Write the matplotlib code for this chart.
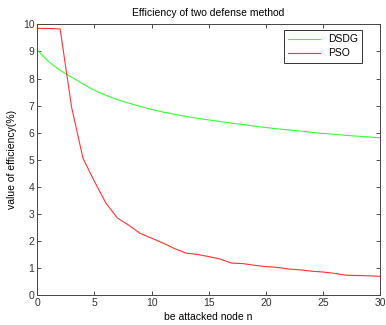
import matplotlib
matplotlib.use("Agg")
import matplotlib.pyplot as plt

plt.rcParams['font.family'] = ['Liberation Sans', 'DejaVu Sans']

x = list(range(0, 31))
dsdg = [9.05, 8.62, 8.30, 8.05, 7.80, 7.56, 7.38, 7.22, 7.09, 6.97, 6.86,
        6.76, 6.68, 6.60, 6.53, 6.47, 6.41, 6.35, 6.30, 6.24, 6.19,
        6.14, 6.10, 6.06, 6.01, 5.97, 5.94, 5.90, 5.87, 5.84, 5.81]
pso = [9.85, 9.85, 9.83, 6.95, 5.05, 4.20, 3.40, 2.85, 2.58, 2.28, 2.10,
       1.92, 1.72, 1.55, 1.50, 1.42, 1.33, 1.18, 1.16, 1.10, 1.05,
       1.02, 0.96, 0.93, 0.88, 0.85, 0.80, 0.73, 0.72, 0.71, 0.69]
xticks = [0, 5, 10, 15, 20, 25, 30]
yticks = list(range(0, 11))

fig = plt.figure(figsize=(3.86, 3.25), dpi=100)
ax = fig.add_axes([0.0966, 0.0923, 0.8879, 0.8327])
ax.plot(x, dsdg, color='#33ff33', lw=0.8, label='DSDG')
ax.plot(x, pso, color='#ff3333', lw=0.8, label='PSO')
ax.set_xlim(0, 30)
ax.set_ylim(0, 10)
ax.set_xticks(xticks)
ax.set_yticks(yticks)
ax.tick_params(direction='in', top=True, right=True, labelsize=7.5, length=3,
               width=0.6, colors='#333333', pad=2)
for s in ax.spines.values():
    s.set_color('#444444')
    s.set_linewidth(0.7)
ax.set_title('Efficiency of two defense method', fontsize=7.5, pad=6)
ax.set_xlabel('be attacked node n', fontsize=7.5, labelpad=3)
ax.set_ylabel('value of efficiency(%)', fontsize=7.5, labelpad=4)
leg = ax.legend(loc='upper right', fontsize=7.5, fancybox=False, framealpha=1,
                edgecolor='#333333', handlelength=3.0, borderpad=0.4,
                borderaxespad=0, labelspacing=0.4,
                bbox_to_anchor=(0.948, 0.979))
leg.get_frame().set_linewidth(0.7)
fig.savefig('out.png', dpi=100)
